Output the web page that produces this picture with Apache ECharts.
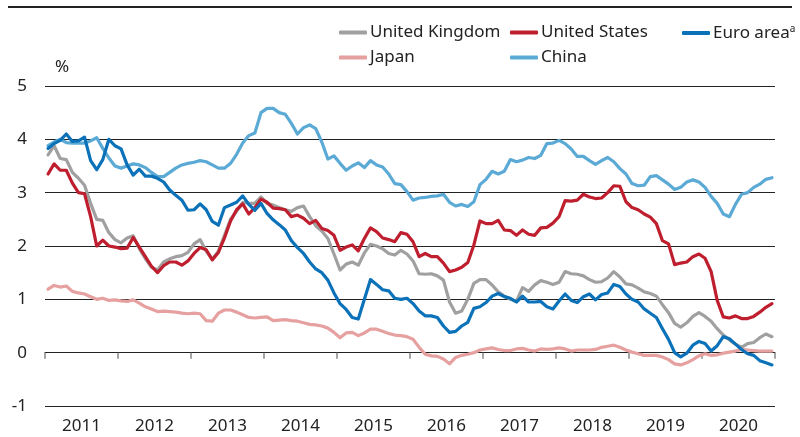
<!DOCTYPE html>
<html>
<head>
<meta charset="utf-8">
<script src="https://cdn.jsdelivr.net/npm/echarts@6/dist/echarts.min.js"></script>
<style>
  html, body { margin: 0; padding: 0; background: #fff; }
  #chart { width: 800px; height: 437px; }
</style>
</head>
<body>
<div id="chart"></div>
<script>
// years on the axis, monthly data Jan 2011 - Dec 2020
var years = ['2011', '2012', '2013', '2014', '2015', '2016', '2017', '2018', '2019', '2020'];
var yTicks = [-1, 0, 1, 2, 3, 4, 5];

var unitedKingdom = [
  3.71, 3.88, 3.64, 3.62, 3.38, 3.27, 3.14, 2.80, 2.50, 2.48, 2.25, 2.12,
  2.06, 2.15, 2.19, 1.95, 1.76, 1.60, 1.55, 1.70, 1.76, 1.80, 1.82, 1.88,
  2.04, 2.12, 1.90, 1.75, 1.90, 2.20, 2.50, 2.65, 2.82, 2.80, 2.80, 2.92,
  2.80, 2.77, 2.72, 2.68, 2.65, 2.72, 2.75, 2.55, 2.38, 2.28, 2.14, 1.85,
  1.55, 1.66, 1.70, 1.64, 1.87, 2.03, 2.00, 1.95, 1.86, 1.83, 1.92, 1.85,
  1.72, 1.48, 1.47, 1.48, 1.44, 1.36, 0.95, 0.74, 0.78, 1.00, 1.30, 1.37,
  1.37, 1.27, 1.14, 1.06, 1.00, 0.96, 1.22, 1.15, 1.27, 1.35, 1.32, 1.28,
  1.32, 1.52, 1.48, 1.47, 1.44, 1.37, 1.32, 1.33, 1.40, 1.52, 1.42, 1.29,
  1.27, 1.21, 1.14, 1.11, 1.06, 0.90, 0.75, 0.55, 0.48, 0.56, 0.68, 0.75,
  0.68, 0.59, 0.45, 0.33, 0.24, 0.16, 0.10, 0.17, 0.19, 0.28, 0.35, 0.30
];
var unitedStates = [
  3.35, 3.54, 3.42, 3.42, 3.18, 3.00, 2.98, 2.55, 2.00, 2.11, 2.00, 1.98,
  1.95, 1.96, 2.16, 1.98, 1.80, 1.62, 1.50, 1.63, 1.70, 1.70, 1.64, 1.72,
  1.86, 1.97, 1.93, 1.74, 1.88, 2.15, 2.47, 2.68, 2.79, 2.60, 2.72, 2.88,
  2.82, 2.71, 2.70, 2.68, 2.55, 2.58, 2.52, 2.42, 2.48, 2.33, 2.29, 2.20,
  1.92, 1.98, 2.02, 1.91, 2.14, 2.34, 2.27, 2.15, 2.12, 2.08, 2.25, 2.22,
  2.08, 1.80, 1.86, 1.80, 1.80, 1.68, 1.52, 1.55, 1.60, 1.69, 2.02, 2.47,
  2.42, 2.42, 2.48, 2.30, 2.29, 2.20, 2.30, 2.22, 2.20, 2.34, 2.35, 2.43,
  2.55, 2.85, 2.84, 2.86, 2.97, 2.92, 2.89, 2.90, 3.00, 3.13, 3.12, 2.83,
  2.72, 2.68, 2.60, 2.54, 2.42, 2.10, 2.04, 1.65, 1.68, 1.70, 1.80, 1.85,
  1.77, 1.52, 0.98, 0.67, 0.65, 0.69, 0.64, 0.64, 0.68, 0.76, 0.85, 0.92
];
var euroArea = [
  3.83, 3.92, 3.98, 4.10, 3.96, 3.97, 4.04, 3.60, 3.43, 3.62, 4.00, 3.88,
  3.82, 3.52, 3.33, 3.44, 3.31, 3.31, 3.27, 3.20, 3.05, 2.95, 2.86, 2.67,
  2.68, 2.79, 2.68, 2.46, 2.39, 2.72, 2.77, 2.82, 2.94, 2.78, 2.67, 2.80,
  2.61, 2.49, 2.40, 2.30, 2.10, 1.97, 1.86, 1.70, 1.57, 1.50, 1.36, 1.12,
  0.92, 0.81, 0.66, 0.63, 1.00, 1.37, 1.28, 1.18, 1.16, 1.02, 1.00, 1.02,
  0.92, 0.78, 0.69, 0.69, 0.66, 0.50, 0.38, 0.40, 0.50, 0.57, 0.83, 0.86,
  0.94, 1.06, 1.11, 1.05, 1.02, 0.95, 1.06, 0.95, 0.95, 0.96, 0.86, 0.82,
  0.97, 1.10, 0.98, 0.94, 1.05, 1.10, 0.99, 1.09, 1.12, 1.28, 1.24, 1.10,
  1.00, 0.95, 0.82, 0.74, 0.66, 0.45, 0.25, 0.00, -0.08, -0.01, 0.14, 0.21,
  0.17, 0.03, 0.13, 0.30, 0.26, 0.16, 0.06, -0.02, -0.05, -0.15, -0.19, -0.23
];
var japan = [
  1.19, 1.26, 1.23, 1.25, 1.15, 1.12, 1.10, 1.05, 1.00, 1.02, 0.98, 0.99,
  0.97, 0.96, 0.99, 0.93, 0.86, 0.82, 0.77, 0.78, 0.77, 0.76, 0.74, 0.73,
  0.74, 0.73, 0.60, 0.59, 0.74, 0.80, 0.80, 0.76, 0.71, 0.66, 0.65, 0.66,
  0.67, 0.60, 0.61, 0.62, 0.60, 0.59, 0.56, 0.53, 0.52, 0.50, 0.46, 0.38,
  0.28, 0.37, 0.38, 0.32, 0.37, 0.44, 0.44, 0.40, 0.36, 0.33, 0.32, 0.30,
  0.25, 0.10, -0.03, -0.06, -0.07, -0.12, -0.21, -0.09, -0.05, -0.03, 0.00, 0.05,
  0.07, 0.09, 0.06, 0.04, 0.04, 0.07, 0.08, 0.05, 0.03, 0.07, 0.06, 0.07,
  0.09, 0.07, 0.03, 0.05, 0.05, 0.05, 0.06, 0.10, 0.12, 0.14, 0.10, 0.05,
  0.01, -0.02, -0.05, -0.05, -0.05, -0.08, -0.13, -0.21, -0.23, -0.19, -0.13, -0.06,
  -0.02, -0.05, -0.04, -0.01, 0.01, 0.03, 0.06, 0.05, 0.04, 0.03, 0.03, 0.03
];
var china = [
  3.88, 3.95, 4.00, 3.94, 3.93, 3.93, 3.93, 3.97, 4.03, 3.83, 3.65, 3.50,
  3.46, 3.50, 3.54, 3.52, 3.47, 3.38, 3.30, 3.30, 3.38, 3.46, 3.52, 3.55,
  3.57, 3.60, 3.58, 3.52, 3.46, 3.46, 3.55, 3.72, 3.93, 4.07, 4.12, 4.50,
  4.58, 4.58, 4.50, 4.47, 4.30, 4.10, 4.22, 4.27, 4.20, 3.95, 3.63, 3.69,
  3.55, 3.42, 3.50, 3.56, 3.47, 3.60, 3.52, 3.48, 3.35, 3.17, 3.15, 3.02,
  2.86, 2.90, 2.91, 2.93, 2.94, 2.97, 2.82, 2.75, 2.78, 2.74, 2.83, 3.15,
  3.25, 3.40, 3.35, 3.40, 3.62, 3.58, 3.61, 3.66, 3.64, 3.70, 3.92, 3.93,
  3.98, 3.92, 3.82, 3.68, 3.68, 3.60, 3.53, 3.60, 3.66, 3.58, 3.45, 3.35,
  3.17, 3.13, 3.14, 3.30, 3.32, 3.24, 3.16, 3.06, 3.10, 3.20, 3.24, 3.20,
  3.10, 2.93, 2.80, 2.60, 2.55, 2.78, 2.97, 3.00, 3.10, 3.16, 3.25, 3.28
];

var months = [];
years.forEach(function (y) {
  for (var m = 1; m <= 12; m++) months.push(y + '-' + (m < 10 ? '0' + m : m));
});

var font = "'Noto Sans', sans-serif";
var textCol = '#222';

function lineSeries(name, data, color) {
  return {
    name: name,
    type: 'line',
    xAxisIndex: 1,
    data: data,
    symbol: 'none',
    lineStyle: { color: color, width: 3.2, join: 'round', cap: 'round' },
    itemStyle: { color: color },
    emphasis: { disabled: true }
  };
}

function legendAt(name, left, top) {
  return {
    data: [name],
    left: left,
    top: top,
    padding: 0,
    itemWidth: 28,
    itemHeight: 4,
    itemGap: 0,
    icon: 'roundRect',
    selectedMode: false,
    textStyle: {
      fontFamily: font, fontSize: 17, color: textCol, padding: [0, 0, 0, -2],
      rich: { sup: { fontFamily: font, fontSize: 10, color: textCol, verticalAlign: 'top', padding: [0, 0, 8, 0] } }
    },
    formatter: function (n) { return n === 'Euro area' ? 'Euro area{sup|a}' : n; }
  };
}

var chart = echarts.init(document.getElementById('chart'), null, { renderer: 'canvas' });
chart.setOption({
  animation: false,
  backgroundColor: '#fff',
  graphic: [{
    type: 'line',
    shape: { x1: 8, y1: 7, x2: 792, y2: 7 },
    style: { stroke: '#222', lineWidth: 2 }
  }],
  legend: [
    legendAt('United Kingdom', 339, 24),
    legendAt('United States', 510, 24),
    legendAt('Euro area', 682, 24),
    legendAt('Japan', 339, 49),
    legendAt('China', 510, 49)
  ],
  grid: { left: 45, right: 25, top: 86, bottom: 31 },
  xAxis: [{
    type: 'category',
    data: years,
    boundaryGap: true,
    axisLine: { show: true, lineStyle: { color: '#222', width: 1 } },
    axisTick: { show: true, length: 6, lineStyle: { color: '#888', width: 1.5 } },
    axisLabel: { fontFamily: font, fontSize: 17, color: textCol, margin: 12 },
    splitLine: { show: false }
  }, {
    type: 'category',
    data: months,
    boundaryGap: true,
    show: false
  }],
  yAxis: {
    type: 'value',
    min: yTicks[0],
    max: yTicks[yTicks.length - 1],
    interval: 1,
    name: '%',
    nameLocation: 'end',
    nameGap: 10,
    nameTextStyle: { fontFamily: font, fontSize: 17, color: textCol, align: 'left', padding: [0, 0, 0, 10] },
    axisLine: { show: false },
    axisTick: { show: false },
    axisLabel: { fontFamily: font, fontSize: 17, color: textCol, margin: 18 },
    splitLine: { show: true, lineStyle: { color: '#222', width: 1 } }
  },
  series: [
    lineSeries('China', china, '#5BAAD6'),
    lineSeries('Japan', japan, '#E6A0A0'),
    lineSeries('United Kingdom', unitedKingdom, '#A0A0A0'),
    lineSeries('United States', unitedStates, '#BE1E2D'),
    lineSeries('Euro area', euroArea, '#0B72B9')
  ]
});
</script>
</body>
</html>
